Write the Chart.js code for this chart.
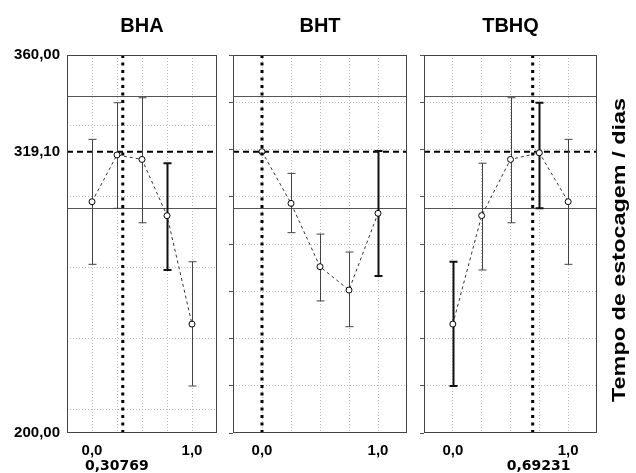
<!DOCTYPE html>
<html>
<head>
<meta charset="utf-8">
<script src="https://cdn.jsdelivr.net/npm/chart.js@4.4.0/dist/chart.umd.min.js"></script>
<style>
  html, body { margin: 0; padding: 0; background: #fff; }
  #wrap { position: relative; width: 636px; height: 473px; }
  #wrap canvas { position: absolute; left: 0; top: 0; }
</style>
</head>
<body>
<div id="wrap">
  <canvas id="bha" width="636" height="473"></canvas>
  <canvas id="bht" width="636" height="473"></canvas>
  <canvas id="tbhq" width="636" height="473"></canvas>
</div>
<script>
// proportion of each antioxidant in the mixture
const levels = [0, 0.25, 0.5, 0.75, 1];

// predicted storage time (days) with interval limits
const bhaMean = [297.9, 317.7, 315.8, 292.0, 246.1];
const bhaLow = [271.4, 295.1, 289.0, 269.0, 219.9];
const bhaHigh = [324.3, 339.8, 341.9, 314.2, 272.5];
const bhaHeavy = [false, false, false, true, false];

const bhtMean = [319.1, 297.2, 270.4, 260.5, 293.0];
const bhtLow = [null, 284.8, 255.9, 245.0, 266.5];
const bhtHigh = [null, 309.9, 284.2, 276.6, 319.4];
const bhtHeavy = [false, false, false, false, true];

const tbhqMean = [246.1, 292.0, 315.8, 318.6, 297.9];
const tbhqLow = [219.9, 269.0, 289.0, 295.1, 271.4];
const tbhqHigh = [272.5, 314.2, 341.9, 339.8, 324.3];
const tbhqHeavy = [true, false, false, true, false];

// optimum levels and response
const optimumX = [0.30769, 0.0, 0.69231];
const optimumLabels = ['0,30769', null, '0,69231'];
const optimumY = 319.1;
const limitLines = [342.8, 295.4];

// axis ticks
const yTicksFirst = [200, 210, 240, 270, 300, 319.1, 330, 360];
const yTicksOther = [200, 220, 240, 260, 280, 300, 320, 340, 360];
const yLabelValues = [200, 319.1, 360];
const yLabelTexts = ['200,00', '319,10', '360,00'];
const xLabelValues = [0, 1];
const xLabelTexts = ['0,0', '1,0'];

const sideTitle = 'Tempo de estocagem / dias';
const FONT = '"Liberation Sans", Arial, sans-serif';

const panelPlugin = {
  id: 'panel',
  beforeDatasetsDraw(chart, args, o) {
    const { ctx, chartArea: a, scales: { x, y } } = chart;
    ctx.save();
    ctx.beginPath();
    ctx.rect(a.left, a.top, a.right - a.left, a.bottom - a.top);
    ctx.clip();

    ctx.strokeStyle = '#555';
    ctx.lineWidth = 1;
    limitLines.forEach(v => {
      const py = Math.round(y.getPixelForValue(v)) + 0.5;
      ctx.beginPath(); ctx.moveTo(a.left, py); ctx.lineTo(a.right, py); ctx.stroke();
    });

    ctx.setLineDash([6, 4]);
    ctx.lineWidth = 2;
    ctx.strokeStyle = '#000';
    const oy = y.getPixelForValue(optimumY);
    ctx.beginPath(); ctx.moveTo(a.left, oy); ctx.lineTo(a.right, oy); ctx.stroke();
    ctx.setLineDash([]);

    // interval bars
    levels.forEach((lv, i) => {
      if (o.low[i] == null) return;
      const px = Math.round(x.getPixelForValue(lv)) + 0.5;
      const y1 = y.getPixelForValue(o.low[i]);
      const y2 = y.getPixelForValue(o.high[i]);
      ctx.strokeStyle = o.heavy[i] ? '#111' : '#444';
      ctx.lineWidth = o.heavy[i] ? 2 : 1;
      ctx.beginPath();
      ctx.moveTo(px, y1); ctx.lineTo(px, y2);
      ctx.moveTo(px - 4, y1); ctx.lineTo(px + 4, y1);
      ctx.moveTo(px - 4, y2); ctx.lineTo(px + 4, y2);
      ctx.stroke();
    });
    ctx.restore();
  },
  afterDatasetsDraw(chart, args, o) {
    const { ctx, chartArea: a, scales: { x } } = chart;
    const px = x.getPixelForValue(o.optimum);
    ctx.save();
    ctx.strokeStyle = '#000';
    ctx.lineWidth = 3;
    ctx.setLineDash([3, 4.5]);
    ctx.beginPath(); ctx.moveTo(px, a.top); ctx.lineTo(px, a.bottom); ctx.stroke();
    ctx.restore();
  },
  afterDraw(chart, args, o) {
    const { ctx, chartArea: a, scales: { x } } = chart;
    ctx.save();
    ctx.strokeStyle = '#444';
    ctx.lineWidth = 1;
    ctx.strokeRect(a.left + 0.5, a.top + 0.5, a.right - a.left - 1, a.bottom - a.top - 1);

    ctx.fillStyle = '#000';
    ctx.textAlign = 'center';
    ctx.textBaseline = 'alphabetic';
    ctx.font = 'bold 20px ' + FONT;
    ctx.fillText(o.title, (a.left + a.right) / 2, a.top - 23);

    if (o.optLabel) {
      ctx.font = 'bold 14px "DejaVu Sans", sans-serif';
      ctx.fillText(o.optLabel, x.getPixelForValue(o.optimum) + o.optShift, a.bottom + 37);
    }

    if (o.side) {
      ctx.font = 'bold 18px ' + FONT;
      const w = ctx.measureText(o.side).width;
      ctx.translate(a.right + 28, (a.top + a.bottom) / 2 + 6);
      ctx.rotate(-Math.PI / 2);
      ctx.scale(304 / w, 1);
      ctx.fillText(o.side, 0, 0);
    }
    ctx.restore();
  }
};

function makePanel(id, title, mean, low, high, heavy, idx, yTicks, area, shift) {
  const first = idx === 0;
  new Chart(document.getElementById(id), {
    type: 'scatter',
    data: {
      datasets: [{
        data: levels.map((lv, i) => ({ x: lv, y: mean[i] })),
        showLine: true,
        borderColor: '#333',
        borderWidth: 1,
        borderDash: [3, 3],
        tension: 0,
        pointRadius: 3,
        pointBorderWidth: 1,
        pointBorderColor: '#000',
        pointBackgroundColor: '#fff'
      }]
    },
    options: {
      responsive: false,
      animation: false,
      layout: {
        padding: { left: area[0] - (first ? 67 : 4), right: 636 - area[1], top: 55, bottom: 0 }
      },
      plugins: {
        legend: { display: false },
        tooltip: { enabled: false },
        panel: {
          title: title, low: low, high: high, heavy: heavy,
          optimum: optimumX[idx], optLabel: optimumLabels[idx], optShift: shift,
          side: idx === 2 ? sideTitle : null
        }
      },
      scales: {
        x: {
          type: 'linear',
          min: -0.25,
          max: 1.25,
          afterBuildTicks: s => { s.ticks = [-0.25, 0, 0.25, 0.5, 0.75, 1, 1.25].map(v => ({ value: v })); },
          afterFit: s => { s.height = 40; },
          border: { display: false, dash: [1, 2] },
          grid: {
            color: c => (c.tick && (c.tick.value < 0 || c.tick.value > 1)) ? 'rgba(0,0,0,0)' : '#bbb',
            drawTicks: false
          },
          ticks: {
            padding: 9,
            color: '#000',
            font: { family: FONT, size: 15, weight: 'bold' },
            maxRotation: 0,
            autoSkip: false,
            callback: v => {
              const k = xLabelValues.indexOf(v);
              return k >= 0 ? xLabelTexts[k] : '';
            }
          }
        },
        y: {
          min: 200,
          max: 360,
          afterBuildTicks: s => { s.ticks = yTicks.map(v => ({ value: v })); },
          afterFit: s => { s.width = first ? 67 : 4; },
          border: { display: false, dash: [1, 2] },
          grid: {
            color: c => (c.tick && (c.tick.value === 200 || c.tick.value === 360 || c.tick.value === 319.1)) ? 'rgba(0,0,0,0)' : '#bbb',
            drawTicks: !first,
            tickLength: 4,
            tickColor: '#555',
            tickBorderDash: []
          },
          ticks: {
            display: first,
            padding: 7,
            color: '#000',
            font: { family: FONT, size: 15, weight: 'bold' },
            autoSkip: false,
            callback: v => {
              const k = yLabelValues.indexOf(v);
              return k >= 0 ? yLabelTexts[k] : '';
            }
          }
        }
      }
    },
    plugins: [panelPlugin]
  });
}

makePanel('bha', 'BHA', bhaMean, bhaLow, bhaHigh, bhaHeavy, 0, yTicksFirst, [67, 217], -6);
makePanel('bht', 'BHT', bhtMean, bhtLow, bhtHigh, bhtHeavy, 1, yTicksOther, [233, 407], 0);
makePanel('tbhq', 'TBHQ', tbhqMean, tbhqLow, tbhqHigh, tbhqHeavy, 2, yTicksOther, [424, 597], 6);
</script>
</body>
</html>
